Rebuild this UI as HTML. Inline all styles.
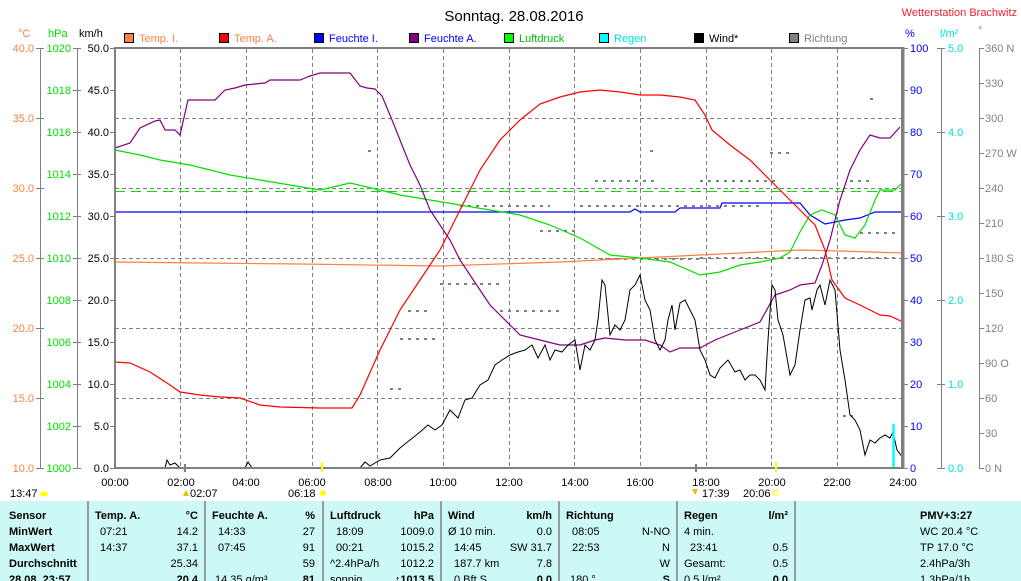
<!DOCTYPE html><html><head><meta charset="utf-8"><style>
body{margin:0;width:1021px;height:581px;background:#fff;overflow:hidden;font-family:"Liberation Sans",sans-serif}
svg{position:absolute;left:0;top:0}
.t{font-family:"Liberation Sans",sans-serif;font-size:11px}
.b{font-weight:bold}
</style></head><body>
<svg width="1021" height="581" xmlns="http://www.w3.org/2000/svg">
<text x="514" y="21" text-anchor="middle" class="t" style="font-size:15px">Sonntag. 28.08.2016</text>
<text x="1017" y="16" text-anchor="end" class="t" fill="#f02030">Wetterstation Brachwitz</text>
<g class="t">
<text x="18" y="37" fill="#ff8040">°C</text><text x="48" y="37" fill="#00e000">hPa</text><text x="79" y="37">km/h</text>
<text x="905" y="37" fill="#0000ff">%</text><text x="940" y="37" fill="#00e0e0">l/m²</text><text x="978" y="34" fill="#888">°</text>
<rect x="124.5" y="33.5" width="9" height="9" fill="#ff8040" stroke="#000"/><text x="139" y="42" fill="#ff8040">Temp. I.</text>
<rect x="219.5" y="33.5" width="9" height="9" fill="#ff0000" stroke="#000"/><text x="234" y="42" fill="#ff8040">Temp. A.</text>
<rect x="314.5" y="33.5" width="9" height="9" fill="#0000ff" stroke="#000"/><text x="329" y="42" fill="#0000ff">Feuchte I.</text>
<rect x="409.5" y="33.5" width="9" height="9" fill="#800080" stroke="#000"/><text x="424" y="42" fill="#0000ff">Feuchte A.</text>
<rect x="504.5" y="33.5" width="9" height="9" fill="#00ff00" stroke="#000"/><text x="519" y="42" fill="#00c000">Luftdruck</text>
<rect x="599.5" y="33.5" width="9" height="9" fill="#00ffff" stroke="#000"/><text x="614" y="42" fill="#00e0e0">Regen</text>
<rect x="694.5" y="33.5" width="9" height="9" fill="#000" stroke="#000"/><text x="709" y="42">Wind*</text>
<rect x="789.5" y="33.5" width="9" height="9" fill="#808080" stroke="#000"/><text x="804" y="42" fill="#808080">Richtung</text>
</g>
<g stroke="#808080" stroke-dasharray="4,3" stroke-width="1">
<line x1="180.5" y1="49" x2="180.5" y2="467"/><line x1="246.5" y1="49" x2="246.5" y2="467"/><line x1="312.5" y1="49" x2="312.5" y2="467"/><line x1="377.5" y1="49" x2="377.5" y2="467"/><line x1="443.5" y1="49" x2="443.5" y2="467"/><line x1="509.5" y1="49" x2="509.5" y2="467"/><line x1="574.5" y1="49" x2="574.5" y2="467"/><line x1="640.5" y1="49" x2="640.5" y2="467"/><line x1="706.5" y1="49" x2="706.5" y2="467"/><line x1="771.5" y1="49" x2="771.5" y2="467"/><line x1="837.5" y1="49" x2="837.5" y2="467"/>
<line x1="115" y1="118.5" x2="902" y2="118.5"/><line x1="115" y1="188.5" x2="902" y2="188.5"/><line x1="115" y1="258.5" x2="902" y2="258.5"/><line x1="115" y1="328.5" x2="902" y2="328.5"/><line x1="115" y1="398.5" x2="902" y2="398.5"/>
</g>
<line x1="115" y1="191.5" x2="902" y2="191.5" stroke="#00e000" stroke-dasharray="10,6"/>
<g stroke="#808080" stroke-width="2" stroke-dasharray="3,5">
<line x1="368" y1="151" x2="371" y2="151"/><line x1="408" y1="311" x2="428" y2="311"/><line x1="390" y1="389" x2="405" y2="389"/><line x1="400" y1="339" x2="440" y2="339"/><line x1="440" y1="284" x2="500" y2="284"/><line x1="460" y1="206" x2="550" y2="206"/><line x1="540" y1="231" x2="580" y2="231"/><line x1="580" y1="206" x2="760" y2="206"/><line x1="595" y1="181" x2="655" y2="181"/><line x1="600" y1="259" x2="700" y2="259"/><line x1="700" y1="181" x2="780" y2="181"/><line x1="770" y1="153" x2="790" y2="153"/><line x1="850" y1="181" x2="870" y2="181"/><line x1="860" y1="233" x2="900" y2="233"/><line x1="500" y1="311" x2="560" y2="311"/><line x1="843" y1="416" x2="853" y2="416"/><line x1="870" y1="99" x2="873" y2="99"/><line x1="650" y1="151" x2="653" y2="151"/><line x1="700" y1="258" x2="900" y2="258"/>
</g>
<g fill="none" stroke-width="1.2">
<polyline stroke="#ff8040" points="115,262 200,263 300,264 440,266 560,262 640,258 700,255 760,252 800,250 840,251 903,253"/>
<polyline stroke="#0000ff" points="115,212 630,212 635,209 640,212 675,212 680,208 700,208 720,208 722,203 800,203 810,215 825,224 845,220 860,218 875,212 903,212"/>
<polyline stroke="#00e000" points="115,150 140,155 160,160 190,165 230,175 260,180 290,185 320,190 350,183 380,190 400,195 430,200 460,205 490,210 520,215 550,225 580,238 610,255 640,258 670,262 700,275 720,272 740,265 760,262 780,258 790,252 800,232 810,215 822,210 835,215 845,235 855,238 865,225 875,200 880,190 895,190 903,182"/>
<polyline stroke="#800080" points="115,148 130,143 140,128 155,121 160,120 165,130 175,130 180,135 188,100 215,100 225,90 235,88 245,85 265,83 270,80 300,80 310,76 320,73 350,73 360,86 367,88 375,89 382,96 390,115 400,140 410,165 420,185 430,210 440,225 450,240 460,260 470,275 480,290 490,305 500,315 510,325 520,335 540,340 560,345 580,345 595,340 605,338 625,340 645,340 660,345 670,352 680,348 700,348 715,340 740,330 760,322 775,295 790,290 800,285 815,283 822,265 830,240 840,200 850,170 860,150 870,135 880,138 890,138 900,127"/>
<polyline stroke="#ff0000" points="115,362 130,363 150,372 170,385 180,392 200,395 220,397 240,398 260,405 280,407 320,408 352,408 360,395 380,350 400,310 420,280 440,250 460,210 480,170 500,140 520,120 540,104 560,97 580,92 600,90 620,92 640,95 660,95 680,97 695,100 705,115 712,130 730,145 750,160 770,180 775,185 780,190 790,200 800,210 815,225 825,250 832,280 845,298 860,305 870,310 880,315 890,316 903,322"/>
<polyline stroke="#000" stroke-width="1" points="115,468 165,468 167,460 170,465 175,463 180,468 245,468 248,462 252,468 360,468 365,462 370,466 380,460 390,458 400,448 410,440 420,432 428,425 435,430 442,425 450,410 458,418 465,400 472,398 480,385 488,380 495,365 502,360 510,355 518,352 525,350 532,345 538,358 545,345 550,360 555,350 562,352 568,345 575,340 580,370 585,345 590,350 595,340 598,320 602,280 605,285 610,335 615,325 620,330 625,320 630,290 635,285 640,275 645,300 650,310 655,340 660,350 665,340 668,320 672,305 675,330 680,303 685,300 690,310 695,320 700,350 705,360 710,375 715,378 720,368 728,360 735,372 740,370 745,380 750,375 755,375 760,380 765,390 768,340 772,285 775,290 778,320 783,335 790,375 795,365 800,330 805,300 810,298 812,310 817,290 820,285 825,305 830,280 835,290 840,350 845,380 850,415 855,420 860,430 865,455 870,440 875,443 880,438 885,435 890,438 893,432 897,450 903,458"/>
</g>
<line x1="893.5" y1="424" x2="893.5" y2="468" stroke="#00ffff" stroke-width="2.5"/>
<rect x="115" y="48" width="787" height="420" fill="none" stroke="#808080" stroke-width="2"/>
<line x1="903" y1="47" x2="903" y2="469" stroke="#808080" stroke-width="3"/>
<g stroke="#808080"><line x1="40.5" y1="48" x2="40.5" y2="468"/><line x1="77.5" y1="48" x2="77.5" y2="468"/><line x1="941.5" y1="48" x2="941.5" y2="468"/><line x1="979.5" y1="48" x2="979.5" y2="468"/>
<path d="M36,48.5h8M36,118.5h8M36,188.5h8M36,258.5h8M36,328.5h8M36,398.5h8M36,468.5h8
M73,48.5h8M73,90.5h8M73,132.5h8M73,174.5h8M73,216.5h8M73,258.5h8M73,300.5h8M73,342.5h8M73,384.5h8M73,426.5h8M73,468.5h8
M110,48.5h5M110,90.5h5M110,132.5h5M110,174.5h5M110,216.5h5M110,258.5h5M110,300.5h5M110,342.5h5M110,384.5h5M110,426.5h5M110,468.5h5
M903,48.5h5M903,90.5h5M903,132.5h5M903,174.5h5M903,216.5h5M903,258.5h5M903,300.5h5M903,342.5h5M903,384.5h5M903,426.5h5M903,468.5h5
M937,48.5h8M937,132.5h8M937,216.5h8M937,300.5h8M937,384.5h8M937,468.5h8
M979,48.5h5M979,83.5h5M979,118.5h5M979,153.5h5M979,188.5h5M979,223.5h5M979,258.5h5M979,293.5h5M979,328.5h5M979,363.5h5M979,398.5h5M979,433.5h5M979,468.5h5"/></g>
<g class="t" text-anchor="end" fill="#ff8040">
<text x="34" y="52">40.0</text><text x="34" y="122">35.0</text><text x="34" y="192">30.0</text><text x="34" y="262">25.0</text><text x="34" y="332">20.0</text><text x="34" y="402">15.0</text><text x="34" y="472">10.0</text></g>
<g class="t" text-anchor="end" fill="#00e000">
<text x="71" y="52">1020</text><text x="71" y="94">1018</text><text x="71" y="136">1016</text><text x="71" y="178">1014</text><text x="71" y="220">1012</text><text x="71" y="262">1010</text><text x="71" y="304">1008</text><text x="71" y="346">1006</text><text x="71" y="388">1004</text><text x="71" y="430">1002</text><text x="71" y="472">1000</text></g>
<g class="t" text-anchor="end">
<text x="109" y="52">50.0</text><text x="109" y="94">45.0</text><text x="109" y="136">40.0</text><text x="109" y="178">35.0</text><text x="109" y="220">30.0</text><text x="109" y="262">25.0</text><text x="109" y="304">20.0</text><text x="109" y="346">15.0</text><text x="109" y="388">10.0</text><text x="109" y="430">5.0</text><text x="109" y="472">0.0</text></g>
<g class="t" fill="#0000ff">
<text x="910" y="52">100</text><text x="910" y="94">90</text><text x="910" y="136">80</text><text x="910" y="178">70</text><text x="910" y="220">60</text><text x="910" y="262">50</text><text x="910" y="304">40</text><text x="910" y="346">30</text><text x="910" y="388">20</text><text x="910" y="430">10</text><text x="910" y="472">0</text></g>
<g class="t" fill="#00e0e0">
<text x="948" y="52">5.0</text><text x="948" y="136">4.0</text><text x="948" y="220">3.0</text><text x="948" y="304">2.0</text><text x="948" y="388">1.0</text><text x="948" y="472">0.0</text></g>
<g class="t" fill="#808080">
<text x="985" y="52">360 N</text><text x="985" y="87">330</text><text x="985" y="122">300</text><text x="985" y="157">270 W</text><text x="985" y="192">240</text><text x="985" y="227">210</text><text x="985" y="262">180 S</text><text x="985" y="297">150</text><text x="985" y="332">120</text><text x="985" y="367">90 O</text><text x="985" y="402">60</text><text x="985" y="437">30</text><text x="985" y="472">0 N</text></g>
<g class="t" text-anchor="middle">
<text x="115" y="486">00:00</text><text x="181" y="486">02:00</text><text x="246" y="486">04:00</text><text x="312" y="486">06:00</text><text x="378" y="486">08:00</text><text x="443" y="486">10:00</text><text x="509" y="486">12:00</text><text x="575" y="486">14:00</text><text x="640" y="486">16:00</text><text x="706" y="486">18:00</text><text x="772" y="486">20:00</text><text x="837" y="486">22:00</text><text x="903" y="486">24:00</text></g>
<rect x="321" y="462" width="2" height="10" fill="#ffff00"/><rect x="775" y="462" width="2" height="10" fill="#ffff00"/>
<rect x="184" y="464" width="2" height="8" fill="#808080"/><rect x="695" y="464" width="2" height="8" fill="#808080"/>
<g class="t"><text x="10" y="497">13:47</text><text x="190" y="497">02:07</text><text x="288" y="497">06:18</text><text x="702" y="497">17:39</text><text x="743" y="497">20:06</text></g>
<ellipse cx="44" cy="494" rx="4" ry="2.5" fill="#ffff00"/><circle cx="323" cy="493" r="3" fill="#ffff00"/><rect x="773" y="490" width="5" height="5" fill="none" stroke="#ffff00"/>
<path d="M183,496 l3,-6 3,6z" fill="#e0c000"/><path d="M692,489 l3,6 3,-6z" fill="#e0c000"/>
<rect x="0" y="501" width="1021" height="80" fill="#ccf8f6"/>
<g stroke="#808080" stroke-width="1.5"><line x1="88" y1="501" x2="88" y2="581"/><line x1="205" y1="501" x2="205" y2="581"/><line x1="323" y1="501" x2="323" y2="581"/><line x1="441" y1="501" x2="441" y2="581"/><line x1="559" y1="501" x2="559" y2="581"/><line x1="677" y1="501" x2="677" y2="581"/><line x1="795" y1="501" x2="795" y2="581"/></g>
<g class="t">
<text x="9" y="519" class="b">Sensor</text><text x="9" y="535" class="b">MinWert</text><text x="9" y="551" class="b">MaxWert</text><text x="9" y="567" class="b">Durchschnitt</text><text x="9" y="583" class="b">28.08. 23:57</text>
<text x="95" y="519" class="b">Temp. A.</text><text x="198" y="519" class="b" text-anchor="end">°C</text>
<text x="100" y="535">07:21</text><text x="198" y="535" text-anchor="end">14.2</text>
<text x="100" y="551">14:37</text><text x="198" y="551" text-anchor="end">37.1</text>
<text x="198" y="567" text-anchor="end">25.34</text><text x="198" y="583" text-anchor="end" class="b">20.4</text>
<text x="212" y="519" class="b">Feuchte A.</text><text x="315" y="519" class="b" text-anchor="end">%</text>
<text x="218" y="535">14:33</text><text x="315" y="535" text-anchor="end">27</text>
<text x="218" y="551">07:45</text><text x="315" y="551" text-anchor="end">91</text>
<text x="315" y="567" text-anchor="end">59</text><text x="215" y="583">14.35 g/m³</text><text x="315" y="583" text-anchor="end" class="b">81</text>
<text x="330" y="519" class="b">Luftdruck</text><text x="434" y="519" class="b" text-anchor="end">hPa</text>
<text x="336" y="535">18:09</text><text x="434" y="535" text-anchor="end">1009.0</text>
<text x="336" y="551">00:21</text><text x="434" y="551" text-anchor="end">1015.2</text>
<text x="330" y="567">^2.4hPa/h</text><text x="434" y="567" text-anchor="end">1012.2</text>
<text x="330" y="583">sonnig</text><text x="434" y="583" text-anchor="end" class="b">↑1013.5</text>
<text x="448" y="519" class="b">Wind</text><text x="552" y="519" class="b" text-anchor="end">km/h</text>
<text x="448" y="535">Ø 10 min.</text><text x="552" y="535" text-anchor="end">0.0</text>
<text x="454" y="551">14:45</text><text x="552" y="551" text-anchor="end">SW 31.7</text>
<text x="454" y="567">187.7 km</text><text x="552" y="567" text-anchor="end">7.8</text>
<text x="454" y="583">0 Bft S</text><text x="552" y="583" text-anchor="end" class="b">0.0</text>
<text x="566" y="519" class="b">Richtung</text>
<text x="572" y="535">08:05</text><text x="670" y="535" text-anchor="end">N-NO</text>
<text x="572" y="551">22:53</text><text x="670" y="551" text-anchor="end">N</text>
<text x="670" y="567" text-anchor="end">W</text><text x="570" y="583">180 °</text><text x="670" y="583" text-anchor="end" class="b">S</text>
<text x="684" y="519" class="b">Regen</text><text x="788" y="519" class="b" text-anchor="end">l/m²</text>
<text x="684" y="535">4 min.</text><text x="690" y="551">23:41</text><text x="788" y="551" text-anchor="end">0.5</text>
<text x="684" y="567">Gesamt:</text><text x="788" y="567" text-anchor="end">0.5</text>
<text x="684" y="583">0.5 l/m²</text><text x="788" y="583" text-anchor="end" class="b">0.0</text>
<text x="920" y="519" class="b">PMV+3:27</text><text x="920" y="535">WC 20.4 °C</text><text x="920" y="551">TP 17.0 °C</text><text x="920" y="567">2.4hPa/3h</text><text x="920" y="583">1.3hPa/1h</text>
</g>
</svg>
</body></html>
